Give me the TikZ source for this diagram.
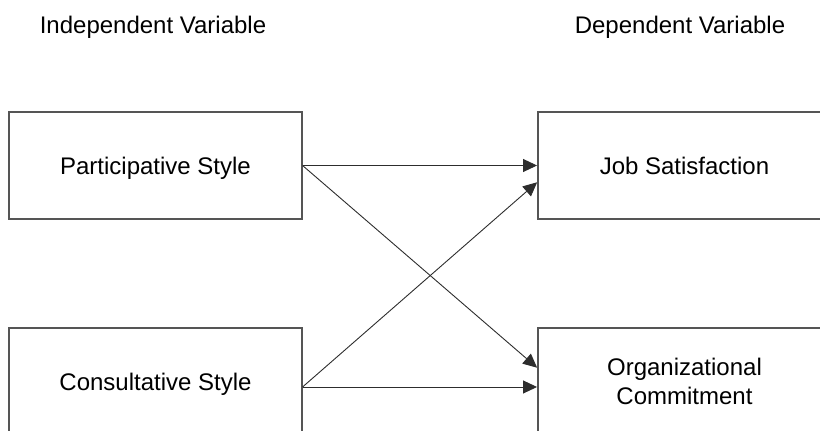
\documentclass[tikz,border=0pt]{standalone}
\usepackage{fontspec}
\setmainfont{Liberation Sans}
\usepackage{tikz}
\usetikzlibrary{arrows.meta,calc}
\definecolor{boxline}{RGB}{85,85,85}
\definecolor{arrowline}{RGB}{45,45,45}
\tikzset{
    varbox/.style={draw=boxline, line width=0.55pt, fill=white, minimum width=146.5pt, minimum height=53.5pt, inner sep=0pt, text depth=0pt, align=center, font=\fontsize{12}{14.5}\selectfont},
    vartitle/.style={inner sep=0pt, text depth=0pt, font=\fontsize{12}{14}\selectfont},
    effect/.style={draw=arrowline, line width=0.45pt, -{Triangle[length=7pt,width=6.5pt]}, shorten >=0.2pt},
}

\begin{document}
\begin{tikzpicture}[x=0.5pt,y=-0.5pt]
\useasboundingbox (0,0) rectangle (820,431);
\clip (0,0) rectangle (820,431);

% Titles
\node[vartitle] (indep) at (153,25) {Independent Variable};
\node[vartitle] (dep) at (680,25) {Dependent Variable};

% Boxes
\node[varbox] (part) at (155.5,165.5) {Participative Style};
\node[varbox] (cons) at (155.5,381.5) {Consultative Style};
\node[varbox] (job) at (684.5,165.5) {Job Satisfaction};
\node[varbox] (org) at (684.5,381.5) {Organizational\\Commitment};

% Arrows
\coordinate (consout) at ($(cons.east)+(0,5.5)$);
\draw[effect] (part.east) -- (job.west);
\draw[effect] (part.east) -- ($(org.west)+(0,-13.5)$);
\draw[effect] (consout) -- ($(job.west)+(0,16.5)$);
\draw[effect] (consout) -- ($(org.west)+(0,5.5)$);

\end{tikzpicture}
\end{document}
